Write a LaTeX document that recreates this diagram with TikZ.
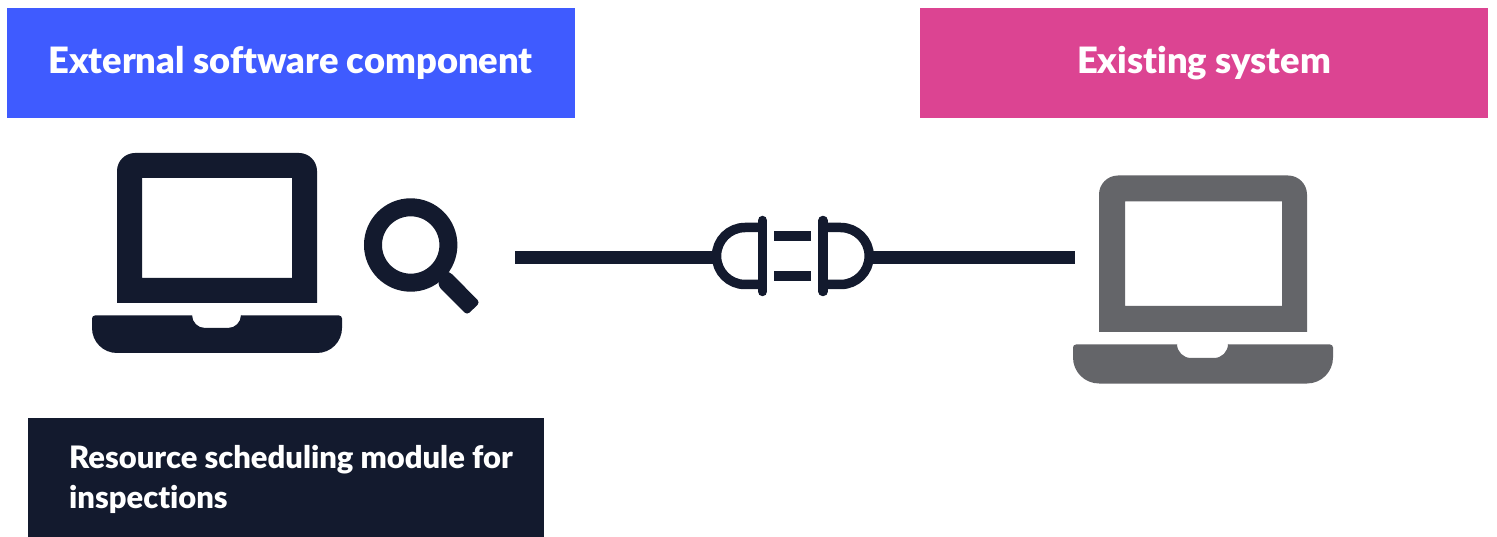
\documentclass[tikz,border=0pt]{standalone}
\usepackage{fontspec}
\setmainfont{Lato}[BoldFont={* Black},Ligatures=NoCommon]
\definecolor{navy}{HTML}{131A2E}
\definecolor{gblue}{HTML}{3F5BFF}
\definecolor{gpink}{HTML}{DC4492}
\definecolor{ggrey}{HTML}{646569}
\tikzset{
  banner/.style={inner sep=0pt,text=white,anchor=base,font=\fontsize{36.3}{40}\selectfont\bfseries},
  plugstroke/.style={draw=navy,line width=9.5pt},
  linkline/.style={draw=navy,line width=13.5pt},
}
\begin{document}
\begin{tikzpicture}[x=1pt,y=-1pt]
\useasboundingbox[fill=white] (0,0) rectangle (1497,537);
% banners
\fill[gblue] (7,8) rectangle (575,118);
\fill[gpink] (920,8) rectangle (1488,118);
\fill[navy] (28,418) rectangle (544,537);
\node[banner] (ext) at (290.5,73.5) {External software component};
\node[banner] (sys) at (1204,73.5) {Existing system};
\node[banner,anchor=north west,align=left,font=\fontsize{30.9}{40}\selectfont\bfseries] (mod) at (69,445) {Resource scheduling module for\\inspections};
% left laptop
\fill[navy,even odd rule] (117,303) [rounded corners=18pt] -- (117,153) -- (317,153) [sharp corners] -- (317,303) -- cycle
  (142,178) rectangle (292,278);
\fill[navy] (192,315.5) [rounded corners=13pt] -- (192,328) -- (241,328) [sharp corners] -- (241,315.5) [rounded corners=3pt] -- (342,315.5) [rounded corners=25pt] -- (342,353) -- (92,353) [rounded corners=3pt] -- (92,315.5) [sharp corners] -- cycle;
% magnifier
\draw[navy,line width=18pt] (410.7,245) circle[radius=37.7];
\fill[navy,rounded corners=3.5pt] (446,272) -- (450,272) -- (480,302.5) -- (467,315) -- (438.5,286.5) -- (438.5,281) -- cycle;
% link
\coordinate (linkL) at (515,257.5);
\coordinate (linkR) at (1075,257.5);
\coordinate (plugL) at (716,257.5);
\coordinate (plugR) at (870,257.5);
\draw[linkline] (linkL) -- (plugL);
\draw[linkline] (plugR) -- (linkR);
\draw[plugstroke,rounded corners=28.5pt] (762,227.5) -- (716.5,227.5) -- (716.5,284.5) -- (762,284.5);
\draw[plugstroke,rounded corners=28.5pt] (823,227.5) -- (869.2,227.5) -- (869.2,284.5) -- (823,284.5);
\draw[plugstroke,line cap=round] (762.5,220.5) -- (762.5,291.5);
\draw[plugstroke,line cap=round] (823,220.5) -- (823,291.5);
\fill[navy] (774,231) rectangle (811,241);
\fill[navy] (774,271) rectangle (811,281);
% right laptop
\fill[ggrey,even odd rule] (1099,332) [rounded corners=19pt] -- (1099,175.5) -- (1307,175.5) [sharp corners] -- (1307,332) -- cycle
  (1125,201.5) rectangle (1282,306);
\fill[ggrey] (1177,344.5) [rounded corners=14pt] -- (1177,358) -- (1228,358) [sharp corners] -- (1228,344.5) [rounded corners=3pt] -- (1333,344.5) [rounded corners=26pt] -- (1333,383.5) -- (1073,383.5) [rounded corners=3pt] -- (1073,344.5) [sharp corners] -- cycle;
\end{tikzpicture}
\end{document}
